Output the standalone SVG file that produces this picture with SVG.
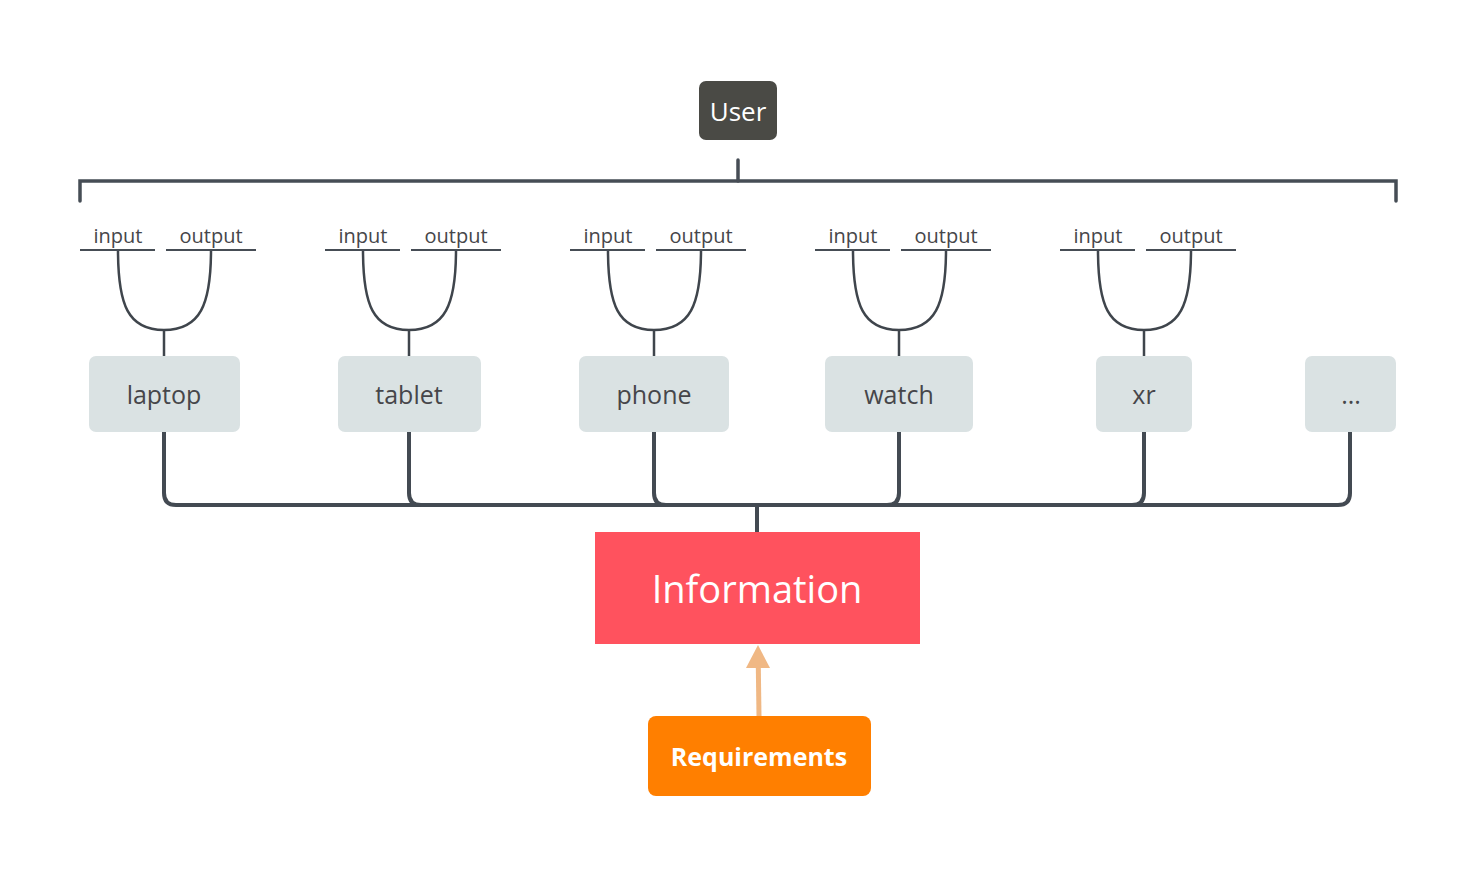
<svg xmlns="http://www.w3.org/2000/svg" width="1477" height="877" viewBox="0 0 1477 877">
<style>
.bg{fill:#ffffff}
.dev{fill:#dae2e3}
.devt{font-family:"Open Sans","Noto Sans",sans-serif;font-size:25px;fill:#46464a;text-anchor:middle}
.io{font-family:"Open Sans","Noto Sans",sans-serif;font-size:20px;fill:#46464a;text-anchor:middle}
.ul{stroke:#464d55;stroke-width:2;fill:none}
.thin{stroke:#3f454c;stroke-width:2.5;fill:none}
.thick{stroke:#434a52;stroke-width:4;fill:none;stroke-linecap:round}
.brk{stroke:#464d55;stroke-width:3.5;fill:none;stroke-linecap:round}
</style>
<rect class="bg" x="0" y="0" width="1477" height="877"/>
<g id="connectors">
<path class="brk" d="M80,201 V181 H1396 V201"/>
<path class="brk" d="M738,160 V181"/>
<g id="io-curves">
<path class="thin" d="M118,250 C118,305 128,330 164,330 C200,330 211,305 211,250 M164,330 V356"/>
<path class="thin" d="M363,250 C363,305 373,330 409,330 C445,330 456,305 456,250 M409,330 V356"/>
<path class="thin" d="M608,250 C608,305 618,330 654,330 C690,330 701,305 701,250 M654,330 V356"/>
<path class="thin" d="M853,250 C853,305 863,330 899,330 C935,330 946,305 946,250 M899,330 V356"/>
<path class="thin" d="M1098,250 C1098,305 1108,330 1144,330 C1180,330 1191,305 1191,250 M1144,330 V356"/>
</g>
<g id="bus">
<path class="thick" d="M164,432 V493 Q164,505 176,505 H757"/>
<path class="thick" d="M409,432 V493 Q409,505 421,505 H757"/>
<path class="thick" d="M654,432 V493 Q654,505 666,505 H757"/>
<path class="thick" d="M899,432 V493 Q899,505 887,505 H757"/>
<path class="thick" d="M1144,432 V493 Q1144,505 1132,505 H757"/>
<path class="thick" d="M1350,432 V493 Q1350,505 1338,505 H757"/>
<path class="thick" d="M757,505 V532" stroke-linecap="butt"/>
</g>
<g id="req-arrow">
<line x1="759" y1="716" x2="758.3" y2="666" stroke="#f0b884" stroke-width="5"/>
<polygon points="758,645 746,668 770,668" fill="#f0b884"/>
</g>
</g>
<g id="io-labels">
<g class="io">
<text x="118" y="243">input</text><text x="211" y="243">output</text>
<text x="363" y="243">input</text><text x="456" y="243">output</text>
<text x="608" y="243">input</text><text x="701" y="243">output</text>
<text x="853" y="243">input</text><text x="946" y="243">output</text>
<text x="1098" y="243">input</text><text x="1191" y="243">output</text>
</g>
<path class="ul" d="M80,250 H155 M166,250 H256 M325,250 H400 M411,250 H501 M570,250 H645 M656,250 H746 M815,250 H890 M901,250 H991 M1060,250 H1135 M1146,250 H1236"/>
</g>
<g id="user">
<rect x="699" y="81" width="78" height="59" rx="7" fill="#4a4a45"/>
<text x="738" y="121" font-family="'Open Sans','Noto Sans',sans-serif" font-size="26" fill="#ffffff" text-anchor="middle">User</text>
</g>
<g id="laptop"><rect class="dev" x="89" y="356" width="151" height="76" rx="7"/><text class="devt" x="164" y="404">laptop</text></g>
<g id="tablet"><rect class="dev" x="338" y="356" width="143" height="76" rx="7"/><text class="devt" x="409" y="404">tablet</text></g>
<g id="phone"><rect class="dev" x="579" y="356" width="150" height="76" rx="7"/><text class="devt" x="654" y="404">phone</text></g>
<g id="watch"><rect class="dev" x="825" y="356" width="148" height="76" rx="7"/><text class="devt" x="899" y="404">watch</text></g>
<g id="xr"><rect class="dev" x="1096" y="356" width="96" height="76" rx="7"/><text class="devt" x="1144" y="404">xr</text></g>
<g id="more"><rect class="dev" x="1305" y="356" width="91" height="76" rx="7"/><text class="devt" x="1351" y="404">...</text></g>
<g id="information">
<rect x="595" y="532" width="325" height="112" fill="#ff525e"/>
<text x="757" y="603" font-family="'Open Sans','Noto Sans',sans-serif" font-size="38" fill="#ffffff" text-anchor="middle">Information</text>
</g>
<g id="requirements">
<rect x="648" y="716" width="223" height="80" rx="8" fill="#ff7f00"/>
<text x="759" y="766" font-family="'Open Sans','Noto Sans',sans-serif" font-size="25" font-weight="bold" fill="#ffffff" text-anchor="middle">Requirements</text>
</g>
</svg>
